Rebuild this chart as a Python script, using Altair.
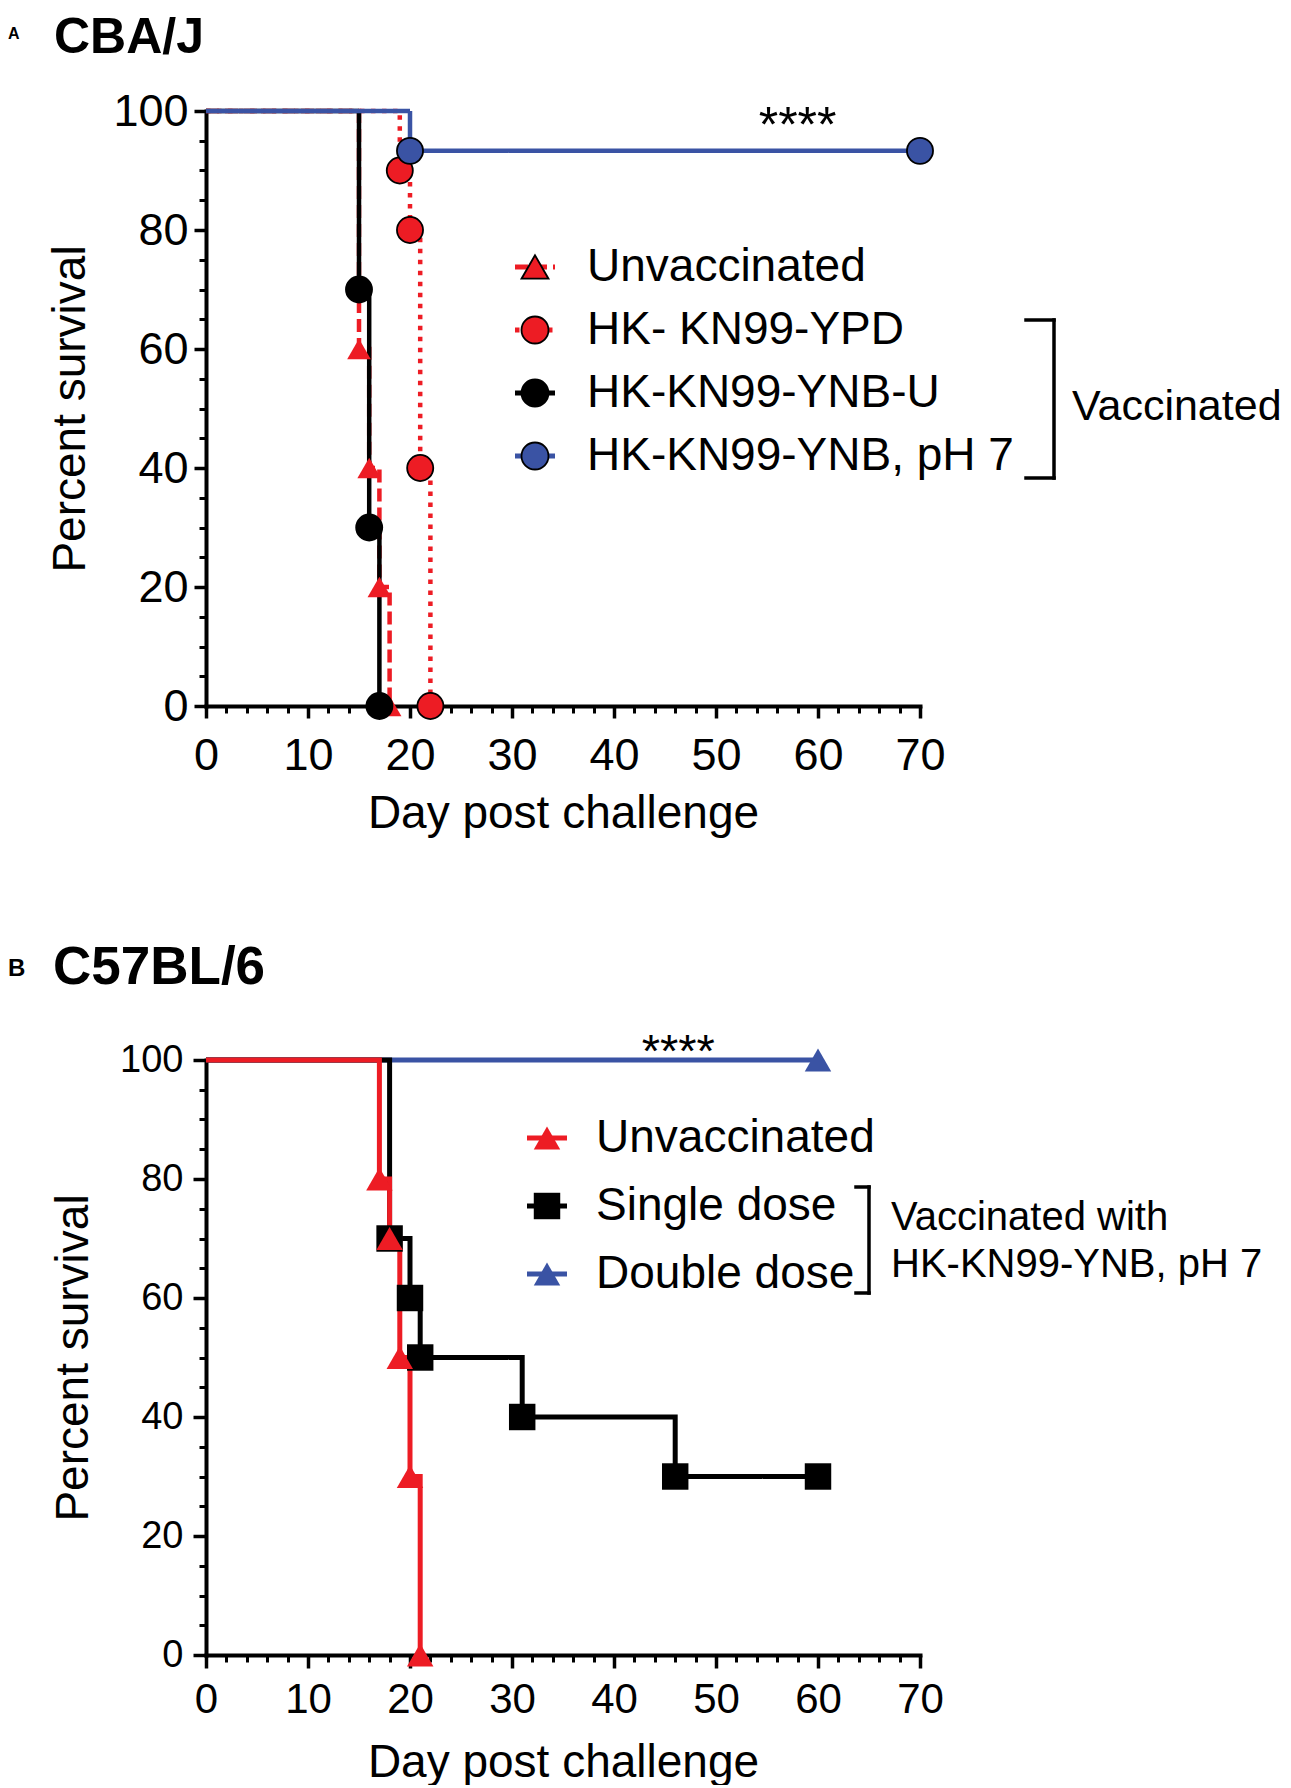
import altair as alt
import pandas as pd

FONT = "Liberation Sans"

# ---------------- Panel A : CBA/J ----------------
A_LETTER = "A"
A_TITLE = "CBA/J"
A_SERIES = ["Unvaccinated", "HK- KN99-YPD", "HK-KN99-YNB-U", "HK-KN99-YNB, pH 7"]
A_COLORS = ["#ED1C24", "#ED1C24", "#000000", "#3A53A4"]
A_SHAPES = ["triangle-up", "circle", "circle", "circle"]
A_DASHES = [[13, 6], [4.5, 6.5], [1, 0], [1, 0]]
A_UNVAC_DAY = [0, 15, 16, 17, 18]
A_UNVAC_PCT = [100, 60, 40, 20, 0]
A_YPD_DAY = [0, 19, 20, 21, 22]
A_YPD_PCT = [100, 90, 80, 40, 0]
A_YNBU_DAY = [0, 15, 16, 17]
A_YNBU_PCT = [100, 70, 30, 0]
A_PH7_DAY = [0, 20, 70]
A_PH7_PCT = [100, 93.3, 93.3]
A_STARS = ["****"]
A_STARS_DAY = [58]
A_STARS_PCT = [94.8]
A_GROUP = "Vaccinated"

# ---------------- Panel B : C57BL/6 ----------------
B_LETTER = "B"
B_TITLE = "C57BL/6"
B_SERIES = ["Unvaccinated", "Single dose", "Double dose"]
B_COLORS = ["#ED1C24", "#000000", "#3A53A4"]
B_SHAPES = ["triangle-up", "square", "triangle-up"]
B_DASHES = [[1, 0], [1, 0], [1, 0]]
B_UNVAC_DAY = [0, 17, 18, 19, 20, 21]
B_UNVAC_PCT = [100, 80, 70, 50, 30, 0]
B_SINGLE_DAY = [0, 18, 20, 21, 31, 46, 60]
B_SINGLE_PCT = [100, 70, 60, 50, 40, 30, 30]
B_DOUBLE_DAY = [0, 60]
B_DOUBLE_PCT = [100, 100]
B_STARS = ["****"]
B_STARS_DAY = [46.3]
B_STARS_PCT = [98.9]
B_GROUP_1 = "Vaccinated with"
B_GROUP_2 = "HK-KN99-YNB, pH 7"

X_TITLE = "Day post challenge"
Y_TITLE = "Percent survival"
X_MAJOR = [0, 10, 20, 30, 40, 50, 60, 70]
X_MINOR = list(range(0, 71, 2))
Y_MAJOR = [0, 20, 40, 60, 80, 100]
Y_MINOR = list(range(0, 101, 5))

W, H = 714, 595


def pt_key(name):
    # key used by the marker layer (its legend labels are hidden)
    return name + " "


def build_frame(names, days, pcts, draw_order):
    rows = []
    for name in draw_order:
        i = names.index(name)
        for k, (d, p) in enumerate(zip(days[i], pcts[i])):
            rows.append({"series": name, "series_pt": pt_key(name), "day": d,
                         "pct": p, "marker": k > 0, "z": draw_order.index(name)})
    return pd.DataFrame(rows)


dfA = build_frame(A_SERIES,
                  [A_UNVAC_DAY, A_YPD_DAY, A_YNBU_DAY, A_PH7_DAY],
                  [A_UNVAC_PCT, A_YPD_PCT, A_YNBU_PCT, A_PH7_PCT],
                  ["Unvaccinated", "HK- KN99-YPD", "HK-KN99-YNB-U", "HK-KN99-YNB, pH 7"])
dfB = build_frame(B_SERIES,
                  [B_UNVAC_DAY, B_SINGLE_DAY, B_DOUBLE_DAY],
                  [B_UNVAC_PCT, B_SINGLE_PCT, B_DOUBLE_PCT],
                  ["Double dose", "Single dose", "Unvaccinated"])

xscale = alt.Scale(domain=[0, 70], nice=False, zero=False)
yscale = alt.Scale(domain=[0, 100], nice=False, zero=False)


def major_axis(orient, values, title, lsize, lpad, tpad, tick):
    return alt.Axis(orient=orient, values=values, title=title, grid=False,
                    domain=True, domainColor="black", domainWidth=4, domainCap="square",
                    ticks=True, tickColor="black", tickSize=tick, tickWidth=3.5,
                    labelFont=FONT, labelFontSize=lsize, labelColor="black",
                    labelPadding=lpad, labelFlush=False, labelOverlap=False,
                    titleFont=FONT, titleFontSize=46, titleFontWeight="normal",
                    titleColor="black", titlePadding=tpad)


def minor_axis(orient, values):
    return alt.Axis(orient=orient, values=values, title=None, grid=False,
                    domain=False, ticks=True, tickColor="black", tickSize=7,
                    tickWidth=3, labels=False)


def legends(lx, ly, off, rowpad, sym_size, sym_sw):
    common = dict(orient="none", legendX=lx, legendY=ly, direction="vertical",
                  title=None, padding=0, labelFont=FONT, labelFontSize=46,
                  labelColor="black", labelLimit=900, labelOffset=off,
                  rowPadding=rowpad)
    leg_line = alt.Legend(symbolType="stroke", symbolSize=1600,
                          symbolStrokeWidth=5, zindex=1, **common)
    leg_pt = alt.Legend(symbolSize=sym_size, symbolStrokeWidth=sym_sw,
                        labelOpacity=0, zindex=2, **common)
    return leg_line, leg_pt


def text_layer(label, x, y, size, weight="normal", baseline="alphabetic"):
    return alt.Chart(pd.DataFrame({"label": [label]})).mark_text(
        font=FONT, fontSize=size, fontWeight=weight, align="left",
        baseline=baseline, color="black"
    ).encode(text="label:N", x=alt.value(x), y=alt.value(y))


def hrule(x, x2, y):
    return alt.Chart(pd.DataFrame({"k": [0]})).mark_rule(
        color="black", strokeWidth=3.5, strokeCap="square"
    ).encode(x=alt.value(x), x2=alt.value(x2), y=alt.value(y))


def vrule(x, y, y2):
    return alt.Chart(pd.DataFrame({"k": [0]})).mark_rule(
        color="black", strokeWidth=3.5, strokeCap="square"
    ).encode(x=alt.value(x), y=alt.value(y), y2=alt.value(y2))


def panel(df, series, colors, shapes, dashes, lw, leg, axes, pt_kwargs,
          pt_stroke_width, pt_size, stars, stars_day, stars_pct, stars_size, extras):
    leg_line, leg_pt = leg
    ax_x, ax_y = axes
    pt_domain = [pt_key(s) for s in series]
    lines = alt.Chart(df).mark_line(
        interpolate="step-after", strokeWidth=lw, strokeCap="butt", strokeJoin="miter"
    ).encode(
        x=alt.X("day:Q", scale=xscale, axis=ax_x),
        y=alt.Y("pct:Q", scale=yscale, axis=ax_y),
        stroke=alt.Stroke("series:N", scale=alt.Scale(domain=series, range=colors), legend=leg_line),
        strokeDash=alt.StrokeDash("series:N", scale=alt.Scale(domain=series, range=dashes), legend=leg_line),
    )
    points = alt.Chart(df).transform_filter("datum.marker").mark_point(
        filled=True, opacity=1, **pt_kwargs
    ).encode(
        x=alt.X("day:Q", scale=xscale, axis=minor_axis("bottom", X_MINOR)),
        y=alt.Y("pct:Q", scale=yscale, axis=minor_axis("left", Y_MINOR)),
        fill=alt.Fill("series_pt:N", scale=alt.Scale(domain=pt_domain, range=colors), legend=leg_pt),
        shape=alt.Shape("series_pt:N", scale=alt.Scale(domain=pt_domain, range=shapes), legend=leg_pt),
        strokeWidth=pt_stroke_width,
        size=pt_size,
        order=alt.Order("z:Q"),
    )
    star = alt.Chart(pd.DataFrame({"t": stars, "day": stars_day, "pct": stars_pct})).mark_text(
        font=FONT, fontSize=stars_size, align="center", baseline="alphabetic", color="black"
    ).encode(
        x=alt.X("day:Q", scale=xscale, axis=None),
        y=alt.Y("pct:Q", scale=yscale, axis=None),
        text="t:N",
    )
    return alt.layer(lines, points, star, *extras).resolve_axis(
        x="independent", y="independent"
    ).properties(width=W, height=H)


panelA = panel(
    dfA, A_SERIES, A_COLORS, A_SHAPES, A_DASHES, 4.5,
    legends(306, 133, 29, 17, 729, 1.8),
    (major_axis("bottom", X_MAJOR, X_TITLE, 45, 15, 13, 12),
     major_axis("left", Y_MAJOR, Y_TITLE, 45, 6, 18, 12)),
    {"stroke": "black"},
    alt.condition(alt.datum.series == "Unvaccinated", alt.value(0), alt.value(1.8)),
    alt.condition(alt.datum.series == "Unvaccinated", alt.value(560), alt.value(680)),
    A_STARS, A_STARS_DAY, A_STARS_PCT, 50,
    [
        text_layer(A_LETTER, -198, -72, 16, "bold"),
        text_layer(A_TITLE, -152, -58, 50, "bold"),
        hrule(820, 848, 209), hrule(820, 848, 367), vrule(848, 209, 367),
        text_layer(A_GROUP, 866, 296, 43, baseline="middle"),
    ],
)

panelB = panel(
    dfB, B_SERIES, B_COLORS, B_SHAPES, B_DASHES, 5,
    legends(318, 55, 26, 22, 700, 0),
    (major_axis("bottom", X_MAJOR, X_TITLE, 42, 11, 20, 13),
     major_axis("left", Y_MAJOR, Y_TITLE, 38, 10, 22, 13)),
    {},
    alt.value(0),
    alt.value(700),
    B_STARS, B_STARS_DAY, B_STARS_PCT, 47,
    [
        text_layer(B_LETTER, -198, -84, 24, "bold"),
        text_layer(B_TITLE, -153, -76, 53, "bold"),
        hrule(650, 663, 127), hrule(650, 663, 233), vrule(663, 127, 233),
        text_layer(B_GROUP_1, 685, 158, 40, baseline="middle"),
        text_layer(B_GROUP_2, 685, 205, 40, baseline="middle"),
    ],
)

IND = dict(stroke="independent", strokeDash="independent",
           fill="independent", shape="independent")

chart = alt.vconcat(panelA, panelB, spacing=106).resolve_scale(**IND).resolve_legend(**IND).properties(
    padding={"left": 0, "top": 5, "right": 0, "bottom": 0},
    background="white",
).configure(font=FONT).configure_view(stroke="transparent", strokeWidth=0)

chart.save("out.html", embed_options={"renderer": "svg", "actions": False})
